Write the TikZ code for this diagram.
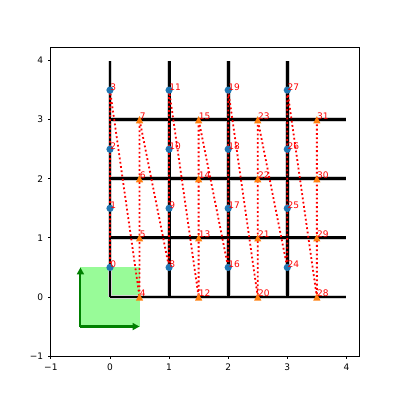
\documentclass[tikz,border=0pt]{standalone}
\usepackage{fontspec}
\setmainfont{DejaVu Sans}
\usetikzlibrary{arrows.meta}
\definecolor{tabblue}{HTML}{1F77B4}
\definecolor{taborange}{HTML}{FF7F0E}
\definecolor{pgreen}{HTML}{98FB98}
\definecolor{dgreen}{HTML}{008000}
\definecolor{halo}{gray}{0.82}
\tikzset{
  halo line/.style={draw=halo, line width=3.4pt},
  grid line/.style={draw=black, line width=2.1pt},
  path line/.style={draw=red, line width=1.3pt, dash pattern=on 1.3pt off 1.8pt, line join=round},
  lbl/.style={text=red, inner sep=0pt, anchor=base west},
  ticklbl/.style={inner sep=0pt},
  frame/.style={draw=black, line width=0.6pt},
  axisarrow/.style={draw=dgreen, line width=1.5pt, -{Triangle[length=5pt,width=5pt]}, dgreen},
}
\begin{document}
\begin{tikzpicture}[x=42.55pt,y=42.55pt, font=\fontsize{6.5}{7.8}\selectfont]
\useasboundingbox (-1.861,-1.743) rectangle (4.907,5.025);
% green square
\fill[pgreen] (-0.5,-0.5) rectangle (0.5,0.5);
% grid lines
\foreach \k in {0,1,2,3} {
  \path[halo line] (\k,0) -- (\k,4);
  \path[halo line] (0,\k) -- (4,\k);
}
\foreach \k in {0,1,2,3} {
  \path[grid line] (\k,0) -- (\k,4);
  \path[grid line] (0,\k) -- (4,\k);
}
% point coordinates
\foreach \g in {0,1,2,3} {
  \foreach \j in {0,1,2,3} {
    \pgfmathtruncatemacro{\ib}{8*\g+\j}
    \pgfmathtruncatemacro{\io}{8*\g+\j+4}
    \coordinate (p\ib) at (\g,\j+0.5);
    \coordinate (p\io) at (\g+0.5,\j);
  }
}
% red dotted path (one continuous path)
\path[path line] (p0) \foreach \i in {1,...,31} { -- (p\i) };
% markers and labels
\foreach \g in {0,1,2,3} {
  \foreach \j in {0,1,2,3} {
    \pgfmathtruncatemacro{\ib}{8*\g+\j}
    \pgfmathtruncatemacro{\io}{8*\g+\j+4}
    \fill[tabblue] (p\ib) circle[radius=2.6pt];
    \fill[taborange] (p\io) ++(0,2.6pt) -- ++(-2.6pt,-5.2pt) -- ++(5.2pt,0) -- cycle;
  }
}
\foreach \i in {0,...,31} {
  \node[lbl] (l\i) at (p\i) {\i};
}
% green arrows
\coordinate (o) at (-0.5,-0.5);
\coordinate (ax) at (0.5,-0.5);
\coordinate (ay) at (-0.5,0.5);
\draw[axisarrow] (o) -- (ay);
\draw[axisarrow] (o) -- (ax);
% axes frame
\draw[frame] (-1,-1) rectangle (4.215,4.215);
\foreach \t/\s in {-1/−1,0/0,1/1,2/2,3/3,4/4} {
  \draw[frame] (\t,-1) -- ++(0,-2.2pt);
  \draw[frame] (-1,\t) -- ++(-2.2pt,0);
  \node[ticklbl, anchor=north] (xt\t) at ([yshift=-5.6pt]\t,-1) {\s};
  \node[ticklbl, anchor=east] (yt\t) at ([xshift=-5.4pt]-1,\t) {\s};
}
\end{tikzpicture}
\end{document}
